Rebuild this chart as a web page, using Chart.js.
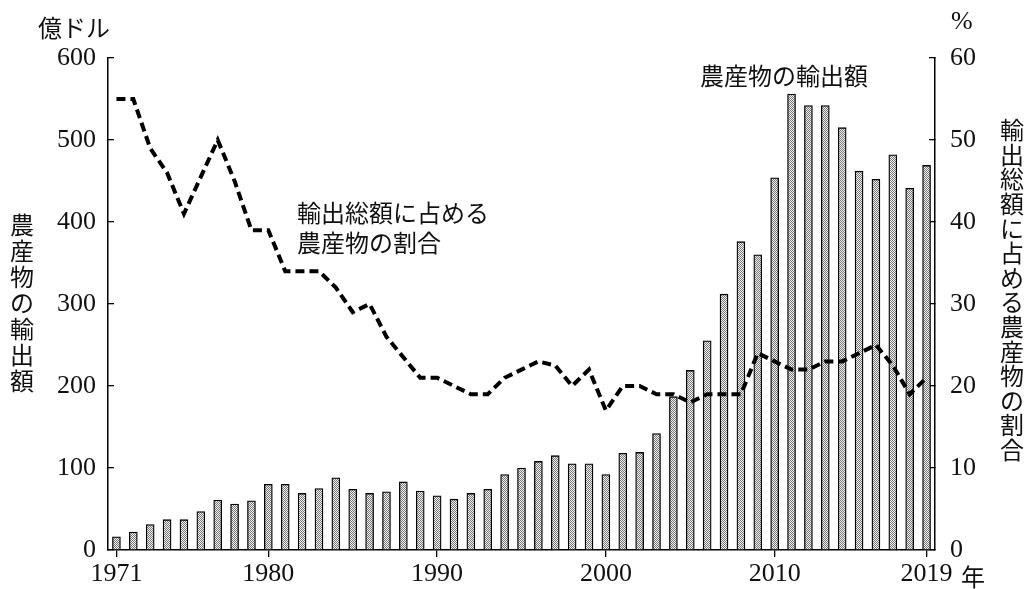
<!DOCTYPE html>
<html>
<head>
<meta charset="utf-8">
<script src="https://cdn.jsdelivr.net/npm/chart.js@4.4.1/dist/chart.umd.min.js"></script>
<style>
html, body { margin: 0; padding: 0; background: #fff; }
</style>
</head>
<body>
<canvas id="chart" width="1026" height="589"></canvas>
<script>
// data
var years = [];
for (var y = 1971; y <= 2019; y++) years.push(String(y));

// 農産物の輸出額 (億ドル)
var exportValues = [
  16, 22, 31, 37, 37, 47, 61, 56, 60, 80,
  80, 69, 75, 88, 74, 69, 71, 83, 72, 66,
  62, 69, 74, 92, 100, 108, 115, 105, 105, 92,
  118, 119, 142, 187, 219, 255, 312, 376, 360, 454,
  556, 542, 542, 515, 462, 452, 482, 441, 469
];

// 輸出総額に占める農産物の割合 (%)
var shareValues = [
  55, 55, 49, 46, 41, 45.5, 50, 45, 39, 39,
  34, 34, 34, 32, 29, 30, 26, 23.5, 21, 21,
  20, 19, 19, 21, 22, 23, 22.5, 20, 22, 17,
  20, 20, 19, 19, 18, 19, 19, 19, 24, 23,
  22, 22, 23, 23, 24, 25, 22.5, 19, 21
];

var shownYears = ['1971', '1980', '1990', '2000', '2010', '2019'];
var leftTicks = [0, 100, 200, 300, 400, 500, 600];
var rightTicks = [0, 10, 20, 30, 40, 50, 60];

var numFont = { family: '"Liberation Serif", "DejaVu Serif", serif', size: 26 };
var jpFont = '"Noto Sans CJK JP", sans-serif';

// dotted fill like the printed bars
function makePattern() {
  var p = document.createElement('canvas');
  p.width = 2; p.height = 2;
  var pc = p.getContext('2d');
  pc.fillStyle = '#f2f2f2';
  pc.fillRect(0, 0, 2, 2);
  pc.fillStyle = '#777';
  pc.fillRect(0, 0, 1, 1);
  pc.fillRect(1, 1, 1, 1);
  return document.getElementById('chart').getContext('2d').createPattern(p, 'repeat');
}

function vertical(ctx, text, x, y0, step) {
  for (var i = 0; i < text.length; i++) {
    ctx.fillText(text[i], x, y0 + i * step);
  }
}

var textPlugin = {
  id: 'texts',
  afterDraw: function (chart) {
    var ctx = chart.ctx;
    ctx.save();
    ctx.fillStyle = '#111';
    ctx.textBaseline = 'middle';
    ctx.font = '24px ' + jpFont;
    ctx.textAlign = 'left';
    ctx.fillText('億ドル', 38, 28);
    ctx.fillText('農産物の輸出額', 700, 76);
    ctx.fillText('輸出総額に占める', 297, 213);
    ctx.fillText('農産物の割合', 297, 243);
    ctx.fillText('年', 961, 577);
    ctx.font = '26px ' + numFont.family;
    ctx.fillText('%', 951, 22);
    ctx.font = '24px ' + jpFont;
    ctx.textAlign = 'center';
    vertical(ctx, '農産物の輸出額', 22, 225, 26);
    vertical(ctx, '輸出総額に占める農産物の割合', 1012, 130, 24.6);
    ctx.restore();
  }
};

var tickColor = function (c) {
  return shownYears.indexOf(years[c.index]) >= 0 ? '#000' : 'rgba(0,0,0,0)';
};

new Chart(document.getElementById('chart'), {
  type: 'bar',
  data: {
    labels: years,
    datasets: [
      {
        type: 'line',
        label: '輸出総額に占める農産物の割合',
        data: shareValues,
        yAxisID: 'y1',
        borderColor: '#000',
        borderWidth: 4,
        borderDash: [9, 5],
        pointRadius: 0,
        tension: 0,
        fill: false,
        order: 0
      },
      {
        type: 'bar',
        label: '農産物の輸出額',
        data: exportValues,
        yAxisID: 'y',
        backgroundColor: makePattern(),
        borderColor: '#000',
        borderWidth: 1.3,
        borderSkipped: 'bottom',
        barThickness: 8,
        order: 1
      }
    ]
  },
  options: {
    responsive: false,
    animation: false,
    layout: { padding: { top: 58, left: 0, right: 0, bottom: 0 } },
    plugins: { legend: { display: false }, tooltip: { enabled: false } },
    scales: {
      x: {
        offset: true,
        grid: { drawOnChartArea: false, offset: false, tickLength: 7, color: tickColor, lineWidth: 1.3 },
        border: { color: '#000', width: 1.5 },
        ticks: {
          autoSkip: false, maxRotation: 0, padding: 2, color: '#111', font: numFont,
          callback: function (v, i) { return shownYears.indexOf(years[i]) >= 0 ? years[i] : ''; }
        },
        afterFit: function (s) { s.height = 39; }
      },
      y: {
        position: 'left',
        min: 0, max: 600,
        afterBuildTicks: function (s) { s.ticks = leftTicks.map(function (v) { return { value: v }; }); },
        grid: { drawOnChartArea: false, tickLength: -6, color: '#000', lineWidth: 1.3 },
        border: { color: '#000', width: 1.5 },
        ticks: { padding: 18, color: '#111', font: numFont },
        afterFit: function (s) { s.width = 108; }
      },
      y1: {
        position: 'right',
        min: 0, max: 60,
        afterBuildTicks: function (s) { s.ticks = rightTicks.map(function (v) { return { value: v }; }); },
        grid: { drawOnChartArea: false, tickLength: -6, color: '#000', lineWidth: 1.3 },
        border: { color: '#000', width: 1.5 },
        ticks: { padding: 21, color: '#111', font: numFont },
        afterFit: function (s) { s.width = 91; }
      }
    }
  },
  plugins: [textPlugin]
});
</script>
</body>
</html>
